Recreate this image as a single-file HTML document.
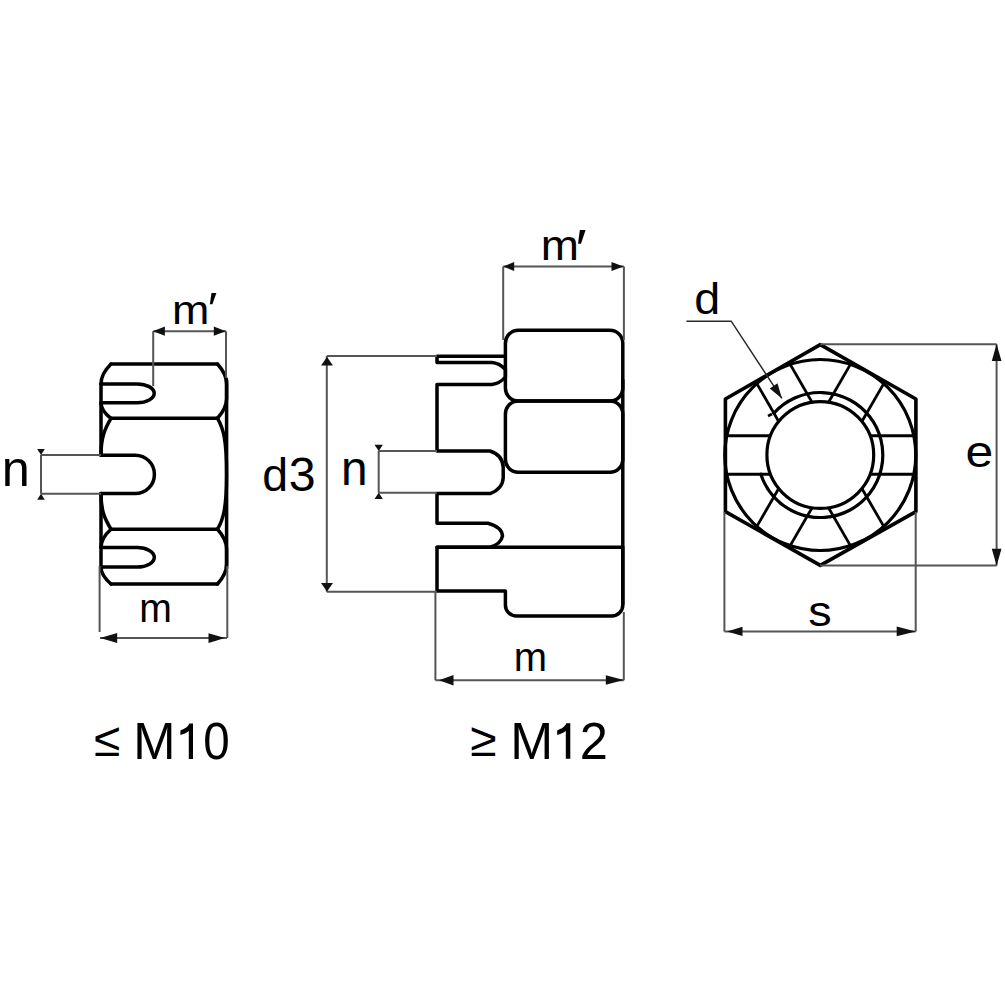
<!DOCTYPE html>
<html><head><meta charset="utf-8"><style>
html,body{margin:0;padding:0;background:#fff;}
svg{display:block;font-family:"Liberation Sans",sans-serif;}
</style></head><body>
<svg width="1005" height="1005" viewBox="0 0 1005 1005">
<rect width="1005" height="1005" fill="#fff"/>
<line x1="111.0" y1="364.0" x2="217.5" y2="364.0" fill="none" stroke="#000" stroke-width="3.5" stroke-linejoin="round" stroke-linecap="round"/>
<line x1="111.0" y1="418.3" x2="217.5" y2="418.3" fill="none" stroke="#000" stroke-width="3.5" stroke-linejoin="round" stroke-linecap="round"/>
<line x1="111.0" y1="529.2" x2="217.5" y2="529.2" fill="none" stroke="#000" stroke-width="3.5" stroke-linejoin="round" stroke-linecap="round"/>
<line x1="111.0" y1="584.0" x2="217.5" y2="584.0" fill="none" stroke="#000" stroke-width="3.5" stroke-linejoin="round" stroke-linecap="round"/>
<path d="M101.0,383.9 L137.2,383.9 A17,9.400000000000006 0 0 1 137.2,402.7 L101.0,402.7" fill="none" stroke="#000" stroke-width="3.5" stroke-linejoin="round" stroke-linecap="round"/>
<path d="M101.0,455.2 L135.2,455.2 A19.200000000000017,19.200000000000017 0 0 1 135.2,493.6 L101.0,493.6" fill="none" stroke="#000" stroke-width="3.5" stroke-linejoin="round" stroke-linecap="round"/>
<path d="M101.0,547.6 L137.3,547.6 A17,9.75 0 0 1 137.3,567.1 L101.0,567.1" fill="none" stroke="#000" stroke-width="3.5" stroke-linejoin="round" stroke-linecap="round"/>
<path d="M101.0,383.9 L101.0,455.2 M101.0,493.6 L101.0,567.1" fill="none" stroke="#000" stroke-width="3.5" stroke-linejoin="round" stroke-linecap="round"/>
<path d="M111.0,364.0 Q101.0,373.9 101.0,383.9" fill="none" stroke="#000" stroke-width="3.5" stroke-linejoin="round" stroke-linecap="round"/>
<path d="M101.0,402.7 Q101.0,410.8 111.0,418.3" fill="none" stroke="#000" stroke-width="3.5" stroke-linejoin="round" stroke-linecap="round"/>
<path d="M111.0,418.3 C105.0,428.3 101.0,437.2 101.0,455.2" fill="none" stroke="#000" stroke-width="3.5" stroke-linejoin="round" stroke-linecap="round"/>
<path d="M101.0,493.6 C101.0,511.6 105.0,519.2 111.0,529.2" fill="none" stroke="#000" stroke-width="3.5" stroke-linejoin="round" stroke-linecap="round"/>
<path d="M111.0,529.2 Q101.0,538.1 101.0,547.6" fill="none" stroke="#000" stroke-width="3.5" stroke-linejoin="round" stroke-linecap="round"/>
<path d="M101.0,567.1 Q101.0,575.5 111.0,584.0" fill="none" stroke="#000" stroke-width="3.5" stroke-linejoin="round" stroke-linecap="round"/>
<path d="M226.6,380 L226.6,568" fill="none" stroke="#000" stroke-width="3.5" stroke-linejoin="round" stroke-linecap="round"/>
<path d="M217.5,364.0 Q226.6,374.0 226.6,384.0 L226.6,398.3 Q226.6,408.3 217.5,418.3" fill="none" stroke="#000" stroke-width="3.5" stroke-linejoin="round" stroke-linecap="round"/>
<path d="M217.5,529.2 Q226.6,539.2 226.6,549.2 L226.6,564.0 Q226.6,574.0 217.5,584.0" fill="none" stroke="#000" stroke-width="3.5" stroke-linejoin="round" stroke-linecap="round"/>
<path d="M217.5,418.3 C223.5,428.3 226.6,440.48 226.6,473.75 C226.6,507.02 223.5,519.2 217.5,529.2" fill="none" stroke="#000" stroke-width="3.5" stroke-linejoin="round" stroke-linecap="round"/>
<path d="M153.2,331.2 L153.2,386 M226,331.2 L226,378 M153.2,331.2 L226,331.2" fill="none" stroke="#555" stroke-width="2.0"/>
<path d="M152.9,331.2 L164.9,326.6 L164.9,335.8 Z" fill="#111"/>
<path d="M225.8,331.2 L213.8,335.8 L213.8,326.6 Z" fill="#111"/>
<path d="M41,455.0 L101,455.0 M41,493.8 L101,493.8 M41,455.0 L41,493.8" fill="none" stroke="#555" stroke-width="2.0"/>
<path d="M41.0,455.0 L37.2,449.0 L44.8,449.0 Z" fill="#111"/>
<path d="M41.0,493.8 L44.8,499.8 L37.2,499.8 Z" fill="#111"/>
<path d="M99.6,566 L99.6,632 M227.3,566 L227.3,638 M100,638.1 L227,638.1" fill="none" stroke="#555" stroke-width="2.0"/>
<path d="M100.2,638.1 L117.2,633.1 L117.2,643.1 Z" fill="#111"/>
<path d="M225.0,638.1 L208.5,642.9 L208.5,633.3 Z" fill="#111"/>
<path d="M518.4,330.2 L609.8,330.2 A13,13 0 0 1 622.8,343.2 L622.8,388.0 A13,13 0 0 1 609.8,401.0 L518.4,401.0 A13,13 0 0 1 505.4,388.0 L505.4,343.2 A13,13 0 0 1 518.4,330.2 Z" fill="none" stroke="#000" stroke-width="3.5" stroke-linejoin="round" stroke-linecap="round"/>
<path d="M518.4,401.0 L609.8,401.0 A13,13 0 0 1 622.8,414.0 L622.8,459.3 A13,13 0 0 1 609.8,472.3 L518.4,472.3 A13,13 0 0 1 505.4,459.3 L505.4,414.0 A13,13 0 0 1 518.4,401.0 Z" fill="none" stroke="#000" stroke-width="3.5" stroke-linejoin="round" stroke-linecap="round"/>
<path d="M622.8,380 L622.8,604" fill="none" stroke="#000" stroke-width="3.5" stroke-linejoin="round" stroke-linecap="round"/>
<path d="M505.4,356.2 L437.0,356.2 L437.0,362.6 L491.8,362.6 Q499,363 505.4,369.5 L505.4,377 Q500,383.5 491.8,384.4 L437.0,384.4 L437.0,451 L490,451 Q502.5,455 503.2,467 L503.2,478 Q502.5,489 490,493.6 L437.0,493.6 L437.0,523.2 L488,523.2 Q502,527 502.5,536 Q501,544 490,547.3 L437.0,547.3" fill="none" stroke="#000" stroke-width="3.5" stroke-linejoin="round" stroke-linecap="round"/>
<path d="M437.0,547.3 L622.8,547.3 M437.0,547.3 L437.0,591 L505.4,591 L505.4,605 A11,11 0 0 0 516.4,616 L611.8,616 A11,11 0 0 0 622.8,605 L622.8,547" fill="none" stroke="#000" stroke-width="3.5" stroke-linejoin="round" stroke-linecap="round"/>
<path d="M503.2,266.5 L503.2,340 M623.9,266.5 L623.9,340 M503.2,266.5 L623.9,266.5" fill="none" stroke="#555" stroke-width="2.0"/>
<path d="M503.2,266.5 L514.2,261.9 L514.2,271.1 Z" fill="#111"/>
<path d="M623.5,266.5 L611.5,271.1 L611.5,261.9 Z" fill="#111"/>
<path d="M326.8,356.0 L437,356.0 M326.8,591.8 L437,591.8 M326.8,356.0 L326.8,591.8" fill="none" stroke="#555" stroke-width="2.0"/>
<path d="M327.0,357.0 L333.0,365.4 L321.0,365.4 Z" fill="#111"/>
<path d="M327.0,591.5 L321.0,583.1 L333.0,583.1 Z" fill="#111"/>
<path d="M378.7,451 L437,451 M378.7,492.8 L437,492.8 M378.7,451 L378.7,492.8" fill="none" stroke="#555" stroke-width="2.0"/>
<path d="M378.7,451.0 L374.5,444.8 L382.9,444.8 Z" fill="#111"/>
<path d="M378.7,492.8 L382.9,499.0 L374.5,499.0 Z" fill="#111"/>
<path d="M435.4,591 L435.4,680.2 M623.8,612 L623.8,680.2 M435.4,680.2 L623.8,680.2" fill="none" stroke="#555" stroke-width="2.0"/>
<path d="M439.0,680.2 L453.5,674.9 L453.5,685.5 Z" fill="#111"/>
<path d="M623.8,680.0 L605.8,684.7 L605.8,675.3 Z" fill="#111"/>
<path d="M820.3,344.6 L725.4,399.0 L725.4,511.6 L820.3,565.4 L915.9,511.6 L915.9,399.0 Z" fill="none" stroke="#000" stroke-width="3.6" stroke-linejoin="round" stroke-linecap="round"/>
<circle cx="820.3" cy="455.0" r="95.5" fill="none" stroke="#000" stroke-width="3.2" stroke-linecap="round"/>
<circle cx="820.3" cy="455.0" r="53.4" fill="none" stroke="#000" stroke-width="3.2" stroke-linecap="round"/>
<path d="M760.84,474.25 A62.5,62.5 0 1 0 773.90,413.13" fill="none" stroke="#000" stroke-width="3.2" stroke-linecap="round"/>
<line x1="870.11" y1="474.25" x2="913.84" y2="474.25" stroke="#000" stroke-width="2.8"/>
<line x1="870.11" y1="435.75" x2="913.84" y2="435.75" stroke="#000" stroke-width="2.8"/>
<line x1="861.88" y1="421.49" x2="883.74" y2="383.62" stroke="#000" stroke-width="2.8"/>
<line x1="828.53" y1="402.24" x2="850.40" y2="364.37" stroke="#000" stroke-width="2.8"/>
<line x1="812.07" y1="402.24" x2="790.20" y2="364.37" stroke="#000" stroke-width="2.8"/>
<line x1="778.72" y1="421.49" x2="756.86" y2="383.62" stroke="#000" stroke-width="2.8"/>
<line x1="770.49" y1="435.75" x2="726.76" y2="435.75" stroke="#000" stroke-width="2.8"/>
<line x1="770.49" y1="474.25" x2="726.76" y2="474.25" stroke="#000" stroke-width="2.8"/>
<line x1="778.72" y1="488.51" x2="756.86" y2="526.38" stroke="#000" stroke-width="2.8"/>
<line x1="812.07" y1="507.76" x2="790.20" y2="545.63" stroke="#000" stroke-width="2.8"/>
<line x1="828.53" y1="507.76" x2="850.40" y2="545.63" stroke="#000" stroke-width="2.8"/>
<line x1="861.88" y1="488.51" x2="883.74" y2="526.38" stroke="#000" stroke-width="2.8"/>
<path d="M820.3,344.2 L996.6,344.2 M820.3,565.6 L996.6,565.6 M996.6,344.2 L996.6,565.6" fill="none" stroke="#555" stroke-width="2.0"/>
<path d="M996.6,343.9 L1001.5,360.9 L991.8,360.9 Z" fill="#111"/>
<path d="M996.6,565.8 L991.8,548.8 L1001.5,548.8 Z" fill="#111"/>
<path d="M724.4,512 L724.4,631.4 M915.7,512 L915.7,631.4 M724.4,631.4 L915.7,631.4" fill="none" stroke="#555" stroke-width="2.0"/>
<path d="M727.0,631.4 L742.5,626.8 L742.5,636.0 Z" fill="#111"/>
<path d="M915.7,631.4 L896.7,636.2 L896.7,626.5 Z" fill="#111"/>
<path d="M686.4,321.2 L731.2,321.2 L781.9,398.4" fill="none" stroke="#2a2a2a" stroke-width="1.5"/>
<path d="M781.9,398.4 L769.8,388.4 L777.5,383.3 Z" fill="#111"/>
<line x1="768" y1="416" x2="772" y2="414" stroke="#000" stroke-width="2.8"/>
<g fill="#000" font-family="Liberation Sans, sans-serif">
<text transform="translate(171.88,323.80) scale(1.081,1)" font-size="41.48">m</text>
<text transform="translate(207.65,323.52) scale(1.135,1)" font-size="45.10">′</text>
<text transform="translate(1.63,486.40) scale(1.015,1)" font-size="49.63">n</text>
<text transform="translate(139.16,621.50) scale(0.965,1)" font-size="40.56">m</text>
<text transform="translate(93.76,755.50) scale(1.008,1)" font-size="47.67">≤</text>
<text transform="translate(133.24,758.70) scale(0.989,1)" font-size="51.30">M</text>
<text transform="translate(203.30,759.09) scale(0.933,1)" font-size="50.99">0</text>
<text transform="translate(540.72,259.60) scale(1.067,1)" font-size="42.96">m</text>
<text transform="translate(575.60,266.93) scale(1.133,1)" font-size="52.94">′</text>
<text transform="translate(262.14,491.14) scale(1.001,1)" font-size="46.39">d</text>
<text transform="translate(288.87,491.13) scale(1.024,1)" font-size="47.18">3</text>
<text transform="translate(340.90,485.00) scale(1.004,1)" font-size="47.59">n</text>
<text transform="translate(513.70,671.40) scale(0.991,1)" font-size="40.37">m</text>
<text transform="translate(470.06,755.50) scale(1.008,1)" font-size="47.67">≥</text>
<text transform="translate(510.18,758.80) scale(0.998,1)" font-size="51.59">M</text>
<text transform="translate(579.67,758.80) scale(0.980,1)" font-size="51.57">2</text>
<text transform="translate(694.13,313.96) scale(1.065,1)" font-size="43.81">d</text>
<text transform="translate(965.55,466.95) scale(1.115,1)" font-size="44.73">e</text>
<text transform="translate(808.19,626.38) scale(1.111,1)" font-size="42.20">s</text>
</g>
<path d="M193.0,723.4 L193.0,758.9 L188.8,758.9 L188.8,730.9 C186.8,732.9 183.4,734.0 180.4,735.0 L180.4,730.4 C184.4,728.5 187.8,727.4 189.3,723.4 Z" fill="#000"/>
<path d="M570.3,723.2 L570.3,758.8 L565.8,758.8 L565.8,730.7 C563.8,732.7 560.2,734.0 557.2,735.0 L557.2,730.4 C561.2,728.5 564.8,727.2 566.3,723.2 Z" fill="#000"/>
</svg></body></html>
